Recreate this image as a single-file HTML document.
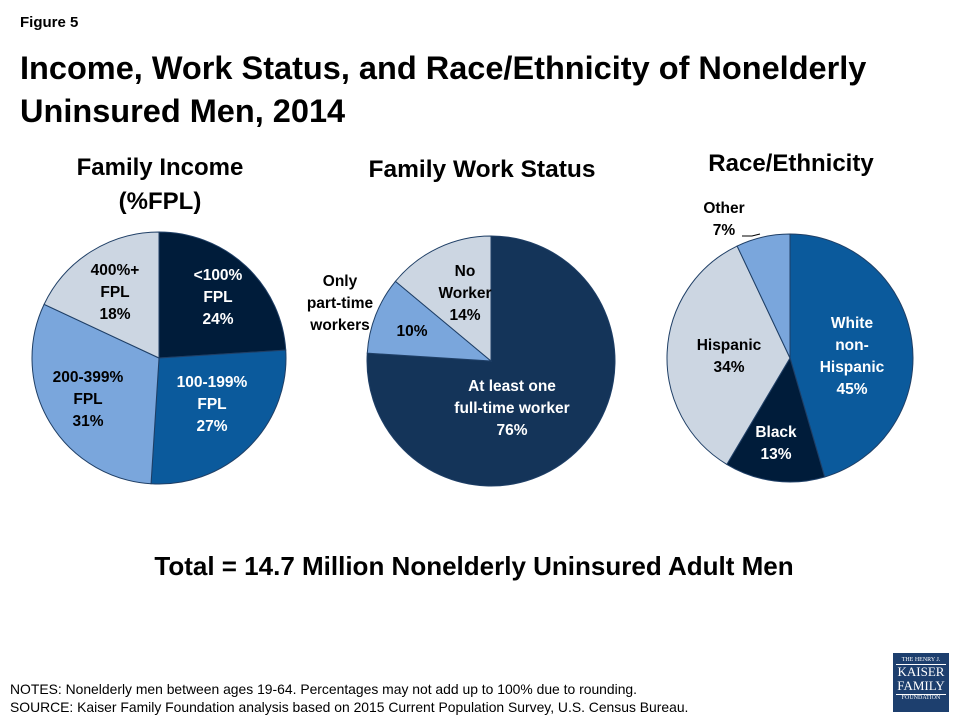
<!DOCTYPE html>
<html><head><meta charset="utf-8"><style>
body{margin:0;width:960px;height:720px;background:#fff;font-family:"Liberation Sans",sans-serif;overflow:hidden;position:relative}
.t{position:absolute;font-weight:bold;color:#000}
svg text{font-family:"Liberation Sans",sans-serif;font-weight:bold;font-size:15.5px}
</style></head><body>
<div class="t" style="left:20px;top:14px;font-size:15px">Figure 5</div>
<div class="t" style="left:20px;top:47px;font-size:32.5px;line-height:43px">Income, Work Status, and Race/Ethnicity of Nonelderly<br>Uninsured Men, 2014</div>
<div class="t" style="left:40px;top:151px;width:240px;text-align:center;font-size:24px;line-height:34px">Family Income<br>(%FPL)</div>
<div class="t" style="left:352px;top:156px;width:260px;text-align:center;font-size:24.5px">Family Work Status</div>
<div class="t" style="left:661px;top:150px;width:260px;text-align:center;font-size:24px">Race/Ethnicity</div>
<svg id="chart" width="960" height="720" style="position:absolute;left:0;top:0"></svg>
<div class="t" style="left:0;top:551px;width:948px;text-align:center;font-size:26px">Total = 14.7 Million Nonelderly Uninsured Adult Men</div>
<div style="position:absolute;left:10px;top:680px;font-size:13.9px;line-height:18px">NOTES: Nonelderly men between ages 19-64. Percentages may not add up to 100% due to rounding.<br>SOURCE: Kaiser Family Foundation analysis based on 2015 Current Population Survey, U.S. Census Bureau.</div>
<div style="position:absolute;left:893px;top:653px;width:56px;height:59px;background:#1d3f6e;color:#fff;font-family:'Liberation Serif',serif;text-align:center">
<div style="font-size:6px;margin-top:4px">THE HENRY J.</div>
<div style="font-size:13px;line-height:14px;border-top:1px solid #fff;margin:1px 3px 0">KAISER</div>
<div style="font-size:13px;line-height:14px">FAMILY</div>
<div style="font-size:6px;border-top:1px solid #fff;margin:1px 3px 0">FOUNDATION</div></div>
<script>
const incomeLabels=["<100% FPL 24%","100-199% FPL 27%","200-399% FPL 31%","400%+ FPL 18%"];
const incomeValues=[24,27,31,18];
const workLabels=["At least one full-time worker 76%","Only part-time workers 10%","No Worker 14%"];
const workValues=[76,10,14];
const raceLabels=["White non-Hispanic 45%","Black 13%","Hispanic 34%","Other 7%"];
const raceValues=[45,13,34,7];
const NS="http://www.w3.org/2000/svg";
const svg=document.getElementById('chart');
function pie(name,vals,colors,cx,cy,rx,ry){
  const tot=vals.reduce((a,b)=>a+b,0);let a=0;
  vals.forEach((v,i)=>{
    const a0=a/tot*2*Math.PI;a+=v;const a1=a/tot*2*Math.PI;
    const x0=cx+rx*Math.sin(a0),y0=cy-ry*Math.cos(a0),x1=cx+rx*Math.sin(a1),y1=cy-ry*Math.cos(a1);
    const p=document.createElementNS(NS,'path');
    p.setAttribute('d',`M${cx},${cy}L${x0},${y0}A${rx},${ry} 0 ${(a1-a0)>Math.PI?1:0} 1 ${x1},${y1}Z`);
    p.setAttribute('fill',colors[i]);p.setAttribute('stroke','#1f3f66');p.setAttribute('stroke-width','1');
    
    
    svg.appendChild(p);
  });
}
function label(lines,x,y,fill,name){
  const t=document.createElementNS(NS,'text');t.setAttribute('text-anchor','middle');t.setAttribute('fill',fill);
  
  
  lines.forEach((l,i)=>{const s=document.createElementNS(NS,'tspan');s.setAttribute('x',x);s.setAttribute('y',y+i*22);s.textContent=l;t.appendChild(s);});
  svg.appendChild(t);
}
const D='#001c3a',M='#0b5a9c',L='#7aa6dc',G='#ccd6e2';
pie('income',incomeValues,[D,M,L,G],159,358,127,126);
pie('work',workValues,['#143459',L,G],491,361,124,125);
pie('race',raceValues,[M,D,G,L],790,358,123,124);
label(["<100%","FPL",incomeValues[0]+"%"],218,280,'#fff','income-label-0');
label(["100-199%","FPL",incomeValues[1]+"%"],212,387,'#fff','income-label-1');
label(["200-399%","FPL",incomeValues[2]+"%"],88,382,'#000','income-label-2');
label(["400%+","FPL",incomeValues[3]+"%"],115,275,'#000','income-label-3');
label(["At least one","full-time worker",workValues[0]+"%"],512,391,'#fff','work-label-0');
label([workValues[1]+"%"],412,336,'#000','work-label-1');
label(["Only","part-time","workers"],340,286,'#000','work-label-1-name');
label(["No","Worker",workValues[2]+"%"],465,276,'#000','work-label-2');
label(["White","non-",("Hispanic"),raceValues[0]+"%"],852,328,'#fff','race-label-0');
label(["Black",raceValues[1]+"%"],776,437,'#fff','race-label-1');
label(["Hispanic",raceValues[2]+"%"],729,350,'#000','race-label-2');
label(["Other",raceValues[3]+"%"],724,213,'#000','race-label-3');
const ln=document.createElementNS(NS,'path');ln.setAttribute('d','M742,236L752,236L760,234');ln.setAttribute('stroke','#000');ln.setAttribute('fill','none');


svg.appendChild(ln);
</script>
</body></html>
